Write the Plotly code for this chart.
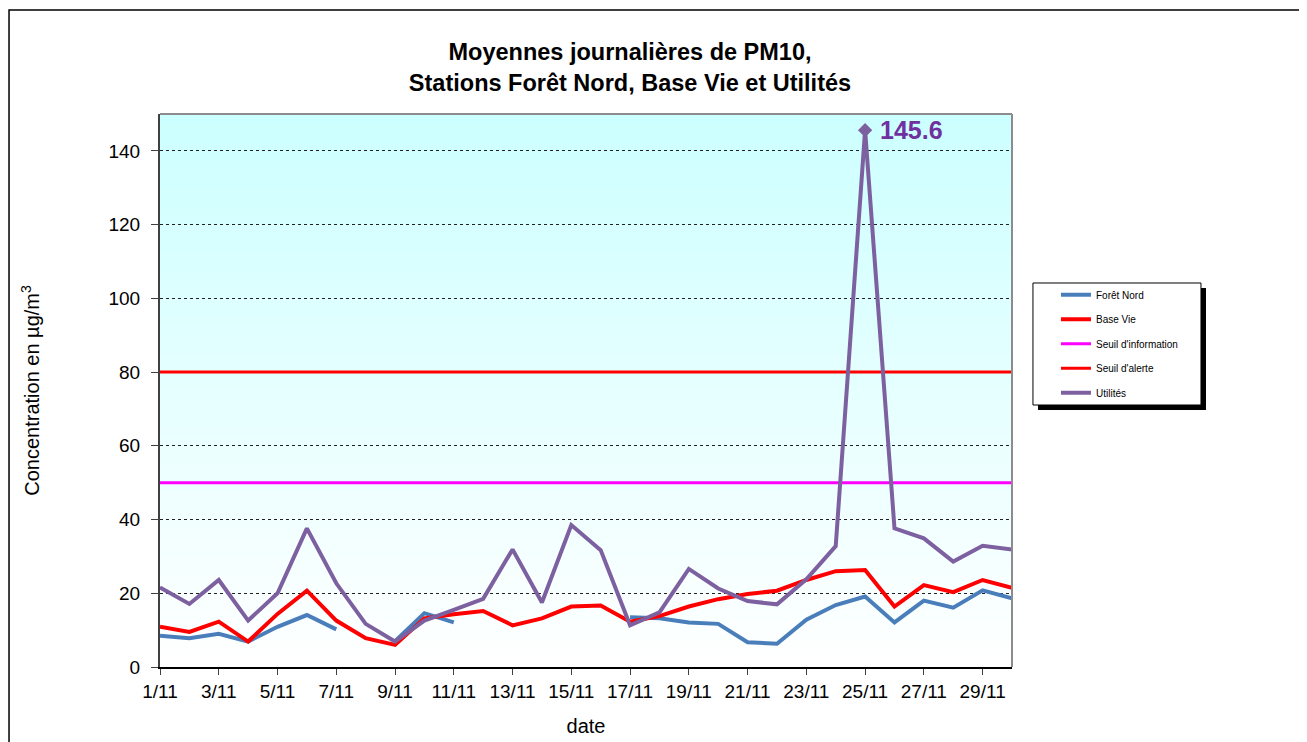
import plotly.graph_objects as go

# ---- data ----
days = ['1/11', '2/11', '3/11', '4/11', '5/11', '6/11', '7/11', '8/11', '9/11', '10/11',
        '11/11', '12/11', '13/11', '14/11', '15/11', '16/11', '17/11', '18/11', '19/11', '20/11',
        '21/11', '22/11', '23/11', '24/11', '25/11', '26/11', '27/11', '28/11', '29/11', '30/11']

foret_nord = [8.5, 7.8, 9.0, 6.9, 10.9, 14.1, 10.2, None, 7.0, 14.6,
              12.1, None, None, None, None, None, 13.5, 13.2, 12.1, 11.7,
              6.7, 6.3, 12.8, 16.8, 19.1, 12.1, 18.0, 16.1, 20.8, 18.6]

base_vie = [10.9, 9.5, 12.3, 6.9, 14.4, 20.7, 12.6, 7.8, 6.0, 13.2,
            14.3, 15.2, 11.3, 13.2, 16.4, 16.7, 12.3, 13.8, 16.4, 18.4,
            19.8, 20.7, 23.6, 26.0, 26.3, 16.4, 22.2, 20.3, 23.6, 21.5]

utilites = [21.6, 17.1, 23.6, 12.6, 20.0, 37.6, 22.7, 11.7, 6.9, 12.6,
            15.5, 18.5, 31.9, 17.5, 38.5, 31.7, 11.3, 14.8, 26.6, 21.3,
            17.9, 17.0, 23.8, 32.8, 145.6, 37.6, 34.9, 28.6, 32.9, 31.9]

seuil_information = 50
seuil_alerte = 80

FONT = 'Arial, Liberation Sans, sans-serif'
C_BLUE = '#4A7EBB'
C_RED = '#FF0000'
C_MAGENTA = '#FF00FF'
C_PURPLE = '#7D60A0'

fig = go.Figure()

# Forêt Nord
fig.add_trace(go.Scatter(
    x=days, y=foret_nord, mode='lines', name='Forêt Nord', legendgroup='a',
    line=dict(color=C_BLUE, width=4)))
# Base Vie
fig.add_trace(go.Scatter(
    x=days, y=base_vie, mode='lines', name='Base Vie', legendgroup='b',
    line=dict(color=C_RED, width=4)))
# thresholds
fig.add_trace(go.Scatter(
    x=days, y=[seuil_information] * len(days), mode='lines', name="Seuil d'information",
    legendgroup='c', line=dict(color=C_MAGENTA, width=3)))
fig.add_trace(go.Scatter(
    x=days, y=[seuil_alerte] * len(days), mode='lines', name="Seuil d'alerte",
    legendgroup='d', line=dict(color=C_RED, width=3)))
# Utilités
fig.add_trace(go.Scatter(
    x=days, y=utilites, mode='lines', name='Utilités', legendgroup='e',
    line=dict(color=C_PURPLE, width=4)))

# diamond marker + label on the peak
peak = max(utilites)
i_peak = utilites.index(peak)
fig.add_trace(go.Scatter(
    x=[days[i_peak]], y=[peak], mode='markers', showlegend=False, legendgroup='e',
    marker=dict(symbol='diamond', color=C_PURPLE, size=11)))
fig.add_annotation(
    x=days[i_peak], y=peak, text='<b>%.1f</b>' % peak,
    showarrow=False, xanchor='left', yanchor='middle', xshift=13,
    font=dict(family=FONT, size=25, color='#7030A0'))

# gradient background (cyan on top, white at the bottom)
n = 60
for i in range(n):
    t = (i + 0.5) / n
    g = int(round(255 - 51 * t))
    fig.add_shape(type='rect', xref='paper', yref='paper',
                  x0=0, x1=1, y0=i / n, y1=(i + 1) / n + 0.002,
                  fillcolor='rgb(%d,255,255)' % g, line_width=0, layer='below')

# plot frame (gray on top/right) and outer chart frame
fig.add_shape(type='line', xref='paper', yref='paper', x0=0, x1=1, y0=1, y1=1,
              line=dict(color='#8c8c8c', width=2))
fig.add_shape(type='line', xref='paper', yref='paper', x0=1, x1=1, y0=0, y1=1,
              line=dict(color='#8c8c8c', width=2))
fig.add_shape(type='rect', xref='paper', yref='paper',
              x0=-0.1772, x1=1.6, y0=-0.4, y1=1.188,
              line=dict(color='black', width=1.5), layer='below')
# legend box with its shadow
fig.add_shape(type='rect', xref='paper', yref='paper',
              x0=1.0305, x1=1.2277, y0=0.4647, y1=0.6854,
              fillcolor='black', line_width=0)
fig.add_shape(type='rect', xref='paper', yref='paper',
              x0=1.0246, x1=1.2218, y0=0.4738, y1=0.6944,
              fillcolor='white', line=dict(color='black', width=1))

# page body has an 8px margin -> figure is 8px smaller than the window
fig.update_layout(
    width=1299, height=734,
    margin=dict(l=152, r=295, t=106, b=75, autoexpand=False),
    paper_bgcolor='white',
    plot_bgcolor='white',
    font=dict(family=FONT, size=19, color='black'),
    title=dict(text='<b>Moyennes journalières de PM10,<br>Stations Forêt Nord, Base Vie et Utilités</b>',
               x=622 / 1299, xanchor='center', y=1 - 52 / 734, yanchor='middle',
               font=dict(family=FONT, size=23.5, color='black')),
    showlegend=True,
    legend=dict(x=1.0516, y=0.6995, xanchor='left', yanchor='top',
                bgcolor='rgba(0,0,0,0)', borderwidth=0,
                font=dict(family=FONT, size=10, color='black'),
                tracegroupgap=5.5, traceorder='grouped'),
)

fig.update_xaxes(
    type='category', range=[0, len(days) - 1], automargin=False,
    tickmode='array', tickvals=days[::2], ticktext=days[::2],
    ticks='outside', ticklen=6, tickcolor='#404040',
    showline=True, linecolor='black', linewidth=2,
    showgrid=False, zeroline=False,
    title=dict(text='date', standoff=18, font=dict(size=20)),
    tickfont=dict(size=19))
fig.update_yaxes(
    range=[0, 150], dtick=20, tick0=0, automargin=False,
    ticks='outside', ticklen=7, tickcolor='#404040', ticklabelstandoff=7,
    showline=True, linecolor='#404040', linewidth=2,
    showgrid=True, gridcolor='#202020', gridwidth=1, griddash='dot',
    zeroline=False,
    title=dict(text='Concentration en µg/m<sup>3</sup>', standoff=63, font=dict(size=20)),
    tickfont=dict(size=19))

fig.write_html('out.html')
